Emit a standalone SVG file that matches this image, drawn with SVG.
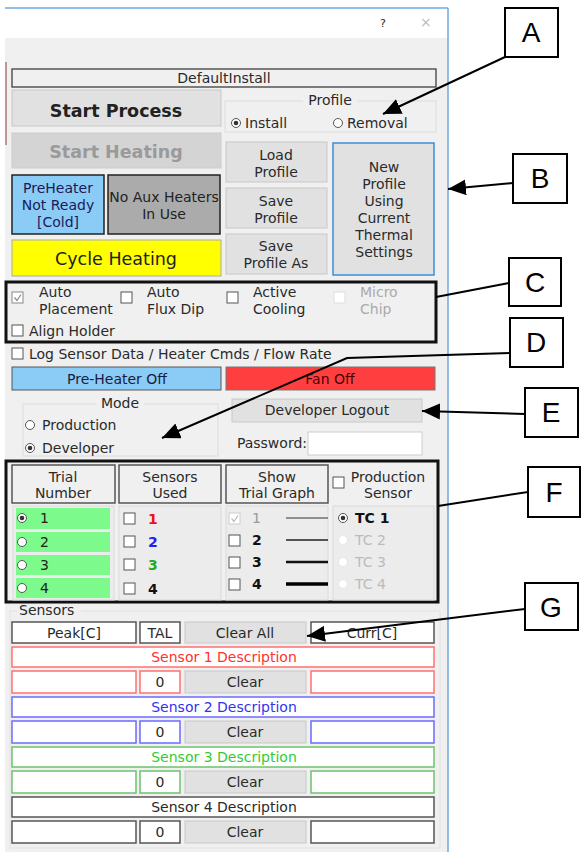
<svg xmlns="http://www.w3.org/2000/svg" width="581" height="852" viewBox="0 0 581 852">
<defs>
<style>
text{font-family:"DejaVu Sans","Noto Sans",sans-serif;font-size:14px;fill:#2a2a2a}
.c{text-anchor:middle}
.btn{fill:#e1e1e1;stroke:#c8c8c8;stroke-width:1}
.inp{fill:#fff;stroke:#555;stroke-width:1.5}
.cb{fill:#fff;stroke:#555;stroke-width:1}
.rd{fill:#fff;stroke:#555;stroke-width:1}
.call rect{fill:#fff;stroke:#000;stroke-width:2}
.call text{font-family:"Liberation Sans",Arial,sans-serif;font-size:28px;fill:#000;text-anchor:middle}
.conn{fill:none;stroke:#000;stroke-width:2}
.hdr{fill:#f0f0f0;stroke:#555;stroke-width:1.5}
.pan{fill:#ececec;stroke:#dadada;stroke-width:1}
.grn{fill:#7cfa8c}
</style>
<marker id="ah" markerUnits="userSpaceOnUse" markerWidth="20" markerHeight="16" refX="18" refY="8" orient="auto">
<path d="M0,0 L18,8 L0,16 Z" fill="#000"/>
</marker>
</defs>
<rect width="581" height="852" fill="#fff"/>
<g id="window">
<rect x="5" y="38" width="443" height="814" fill="#f0f0f0"/>
<line x1="5" y1="8" x2="448" y2="8" stroke="#6ea8e0" stroke-width="1.5"/>
<line x1="448" y1="8" x2="448" y2="852" stroke="#6ea8e0" stroke-width="1.5"/>
<line x1="6" y1="62" x2="6" y2="145" stroke="#8b3a3a" stroke-width="1"/>
<text x="380" y="27" style="font-size:11px" fill="#444">?</text>
<text x="420" y="27" style="font-size:14px;fill:#bbb">×</text>
</g>
<g id="defaultinstall"><rect x="12" y="69" width="424" height="18" fill="#f0f0f0" stroke="#555" stroke-width="1.5"/><text x="224" y="83" class="c">DefaultInstall</text></g>
<g id="start-process"><rect x="12" y="90" width="209" height="36" class="btn"/><text x="116" y="117" class="c" style="font-size:17.5px;font-weight:bold;fill:#222">Start Process</text></g>
<g id="profile-group"><rect x="225" y="101" width="211" height="31" fill="none" stroke="#dcdcdc"/><rect x="303" y="95" width="54" height="10" fill="#f0f0f0"/><text x="330" y="105" class="c">Profile</text>
<circle cx="236" cy="123" r="4.5" class="rd"/><circle cx="236" cy="123" r="2.3" fill="#333"/><text x="245" y="128">Install</text>
<circle cx="338" cy="123" r="4.5" class="rd"/><text x="347" y="128">Removal</text></g>
<g id="start-heating"><rect x="12" y="133" width="209" height="35" fill="#d4d4d4" stroke="#ccc"/><text x="116" y="158" class="c" style="font-size:17.5px;font-weight:bold;fill:#9a9a9a">Start Heating</text></g>
<g id="load-profile"><rect x="226" y="142" width="101" height="40" class="btn"/><text x="276" y="160" class="c">Load</text><text x="276" y="177" class="c">Profile</text></g>
<g id="save-profile"><rect x="226" y="188" width="101" height="40" class="btn"/><text x="276" y="206" class="c">Save</text><text x="276" y="223" class="c">Profile</text></g>
<g id="save-profile-as"><rect x="226" y="234" width="101" height="40" class="btn"/><text x="276" y="251" class="c">Save</text><text x="276" y="268" class="c">Profile As</text></g>
<g id="new-profile"><rect x="333" y="143" width="101" height="132" fill="#e1e1e1" stroke="#3c8ddc" stroke-width="1.5"/><text x="384" y="172" class="c">New</text><text x="384" y="189" class="c">Profile</text><text x="384" y="206" class="c">Using</text><text x="384" y="223" class="c">Current</text><text x="384" y="240" class="c">Thermal</text><text x="384" y="257" class="c">Settings</text></g>
<g id="preheater-status"><rect x="12" y="175" width="92" height="59" fill="#8accf6" stroke="#222" stroke-width="1.5"/><text x="58" y="193" class="c" style="fill:#1a1a5a">PreHeater</text><text x="58" y="210" class="c" style="fill:#1a1a5a">Not Ready</text><text x="58" y="227" class="c" style="fill:#1a1a5a">[Cold]</text></g>
<g id="aux-heaters"><rect x="108" y="175" width="112" height="59" fill="#ababab" stroke="#222" stroke-width="1.5"/><text x="164" y="202" class="c" style="fill:#222">No Aux Heaters</text><text x="164" y="219" class="c" style="fill:#222">In Use</text></g>
<g id="cycle-heating"><rect x="12" y="240" width="209" height="36" fill="#ffff00" stroke="#aaa"/><text x="116" y="265" class="c" style="font-size:17.5px;fill:#222">Cycle Heating</text></g>
<g id="options-box">
<rect x="6" y="282" width="430" height="60" fill="none" stroke="#111" stroke-width="3"/>
<rect x="12" y="292" width="11" height="11" fill="#fff" stroke="#888"/><path d="M14.5,297.5 L17,300.5 L21,294.5" fill="none" stroke="#888" stroke-width="1.2"/>
<text x="39" y="297">Auto</text><text x="39" y="314">Placement</text>
<rect x="121" y="292" width="11" height="11" class="cb"/><text x="147" y="297">Auto</text><text x="147" y="314">Flux Dip</text>
<rect x="227" y="292" width="11" height="11" class="cb"/><text x="253" y="297">Active</text><text x="253" y="314">Cooling</text>
<rect x="334" y="292" width="11" height="11" fill="#fff" stroke="#ddd"/><text x="360" y="297" style="fill:#aaa">Micro</text><text x="360" y="314" style="fill:#aaa">Chip</text>
<rect x="12" y="325" width="11" height="11" class="cb"/><text x="29" y="336">Align Holder</text>
</g>
<g id="log-sensor"><rect x="12" y="348" width="11" height="11" class="cb"/><text x="29" y="359">Log Sensor Data / Heater Cmds / Flow Rate</text></g>
<g id="preheater-off"><rect x="12" y="367" width="209" height="23" fill="#8accf6" stroke="#555"/><text x="117" y="384" class="c" style="fill:#1a1a3a">Pre-Heater Off</text></g>
<g id="fan-off"><rect x="226" y="367" width="209" height="23" fill="#ff3f3f" stroke="#777"/><text x="330" y="384" class="c" style="fill:#4a0000">Fan Off</text></g>
<g id="mode-group"><rect x="23" y="404" width="195" height="52" fill="none" stroke="#dcdcdc"/><rect x="96" y="397" width="48" height="12" fill="#f0f0f0"/><text x="120" y="408" class="c">Mode</text>
<circle cx="30" cy="425" r="4.5" class="rd"/><text x="42" y="430">Production</text>
<circle cx="30" cy="448" r="4.5" class="rd"/><circle cx="30" cy="448" r="2.3" fill="#333"/><text x="42" y="453">Developer</text></g>
<g id="developer-logout"><rect x="232" y="399" width="190" height="23" class="btn"/><text x="327" y="415" class="c">Developer Logout</text></g>
<g id="password"><text x="307" y="448" style="text-anchor:end">Password:</text><rect x="308" y="432" width="114" height="23" fill="#fff" stroke="#ccc"/></g>
<g id="trial-box">
<rect x="6" y="461" width="432" height="141" fill="none" stroke="#111" stroke-width="3"/>
<rect x="12" y="465" width="103" height="38" class="hdr"/><text x="63" y="482" class="c">Trial</text><text x="63" y="498" class="c">Number</text>
<rect x="119" y="465" width="102" height="38" class="hdr"/><text x="170" y="482" class="c">Sensors</text><text x="170" y="498" class="c">Used</text>
<rect x="226" y="465" width="102" height="38" class="hdr"/><text x="277" y="482" class="c">Show</text><text x="277" y="498" class="c">Trial Graph</text>
<rect x="333" y="477" width="11" height="11" class="cb"/><text x="388" y="482" class="c">Production</text><text x="388" y="498" class="c">Sensor</text>
<rect x="13" y="506" width="101" height="94" class="pan"/>
<rect x="16" y="508" width="94" height="21" class="grn"/><rect x="16" y="532" width="94" height="20" class="grn"/><rect x="16" y="555" width="94" height="20" class="grn"/><rect x="16" y="578" width="94" height="20" class="grn"/>
<circle cx="22" cy="518" r="4.5" class="rd"/><circle cx="22" cy="518" r="2.3" fill="#333"/><circle cx="22" cy="542" r="4.5" class="rd"/><circle cx="22" cy="565" r="4.5" class="rd"/><circle cx="22" cy="588" r="4.5" class="rd"/>
<text x="40" y="523" style="fill:#222">1</text><text x="40" y="547" style="fill:#222">2</text><text x="40" y="570" style="fill:#222">3</text><text x="40" y="593" style="fill:#222">4</text>
<rect x="119" y="506" width="102" height="94" class="pan"/>
<rect x="124" y="513" width="11" height="11" class="cb"/><rect x="124" y="536" width="11" height="11" class="cb"/><rect x="124" y="559" width="11" height="11" class="cb"/><rect x="124" y="583" width="11" height="11" class="cb"/>
<text x="148" y="524" style="fill:#ee1111;font-weight:bold">1</text><text x="148" y="547" style="fill:#2222ee;font-weight:bold">2</text><text x="148" y="570" style="fill:#22aa22;font-weight:bold">3</text><text x="148" y="594" style="fill:#111;font-weight:bold">4</text>
<rect x="226" y="506" width="102" height="94" class="pan"/>
<rect x="229" y="513" width="11" height="11" fill="#fff" stroke="#ccc"/><path d="M231.5,518.5 L234,521.5 L238,515.5" fill="none" stroke="#bbb" stroke-width="1.2"/>
<rect x="229" y="535" width="11" height="11" class="cb"/><rect x="229" y="557" width="11" height="11" class="cb"/><rect x="229" y="579" width="11" height="11" class="cb"/>
<text x="252" y="523" style="fill:#999">1</text><text x="252" y="545" style="fill:#111;font-weight:bold">2</text><text x="252" y="567" style="fill:#111;font-weight:bold">3</text><text x="252" y="589" style="fill:#111;font-weight:bold">4</text>
<line x1="286" y1="518" x2="328" y2="518" stroke="#333" stroke-width="1"/><line x1="286" y1="540" x2="328" y2="540" stroke="#222" stroke-width="1.6"/><line x1="286" y1="562" x2="328" y2="562" stroke="#111" stroke-width="2.4"/><line x1="286" y1="584" x2="328" y2="584" stroke="#000" stroke-width="3.4"/>
<rect x="333" y="506" width="101" height="94" class="pan"/>
<circle cx="343" cy="518" r="4.5" class="rd"/><circle cx="343" cy="518" r="2.3" fill="#333"/><text x="355" y="523" style="fill:#111;font-weight:bold">TC 1</text>
<circle cx="343" cy="540" r="4.5" fill="#fff" stroke="#e6e6e6"/><text x="355" y="545" style="fill:#bbb">TC 2</text>
<circle cx="343" cy="562" r="4.5" fill="#fff" stroke="#e6e6e6"/><text x="355" y="567" style="fill:#bbb">TC 3</text>
<circle cx="343" cy="584" r="4.5" fill="#fff" stroke="#e6e6e6"/><text x="355" y="589" style="fill:#bbb">TC 4</text>
</g>
<g id="sensors-group">
<rect x="10" y="611" width="430" height="237" fill="none" stroke="#e2e2e2"/>
<rect x="17" y="604" width="64" height="12" fill="#f0f0f0"/><text x="19" y="615">Sensors</text>
<rect x="12" y="622" width="124" height="21" class="inp" style="stroke:#555"/><text x="74" y="638" class="c">Peak[C]</text>
<rect x="140" y="622" width="40" height="21" class="inp"/><text x="160" y="638" class="c">TAL</text>
<rect x="185" y="622" width="121" height="21" class="btn"/><text x="245" y="638" class="c">Clear All</text>
<rect x="311" y="622" width="123" height="21" class="inp"/><text x="372" y="638" class="c">Curr[C]</text>
</g>
<g id="sensor1">
<rect x="12" y="647" width="422" height="20" fill="#fff" stroke="#ff7070" stroke-width="1.5"/><text x="224" y="662" class="c" style="fill:#ff3030">Sensor 1 Description</text>
<rect x="12" y="671" width="124" height="22" fill="#fff" stroke="#ff7070" stroke-width="1.5"/><rect x="140" y="671" width="40" height="22" fill="#fff" stroke="#ff7070" stroke-width="1.5"/><text x="160" y="687" class="c">0</text>
<rect x="185" y="671" width="121" height="22" class="btn"/><text x="245" y="687" class="c">Clear</text>
<rect x="311" y="671" width="123" height="22" fill="#fff" stroke="#ff7070" stroke-width="1.5"/>
</g>
<g id="sensor2">
<rect x="12" y="697" width="422" height="20" fill="#fff" stroke="#6a6aff" stroke-width="1.5"/><text x="224" y="712" class="c" style="fill:#3333ee">Sensor 2 Description</text>
<rect x="12" y="721" width="124" height="22" fill="#fff" stroke="#6a6aff" stroke-width="1.5"/><rect x="140" y="721" width="40" height="22" fill="#fff" stroke="#6a6aff" stroke-width="1.5"/><text x="160" y="737" class="c">0</text>
<rect x="185" y="721" width="121" height="22" class="btn"/><text x="245" y="737" class="c">Clear</text>
<rect x="311" y="721" width="123" height="22" fill="#fff" stroke="#6a6aff" stroke-width="1.5"/>
</g>
<g id="sensor3">
<rect x="12" y="747" width="422" height="20" fill="#fff" stroke="#6cc26c" stroke-width="1.5"/><text x="224" y="762" class="c" style="fill:#33cc33">Sensor 3 Description</text>
<rect x="12" y="771" width="124" height="22" fill="#fff" stroke="#6cc26c" stroke-width="1.5"/><rect x="140" y="771" width="40" height="22" fill="#fff" stroke="#6cc26c" stroke-width="1.5"/><text x="160" y="787" class="c">0</text>
<rect x="185" y="771" width="121" height="22" class="btn"/><text x="245" y="787" class="c">Clear</text>
<rect x="311" y="771" width="123" height="22" fill="#fff" stroke="#6cc26c" stroke-width="1.5"/>
</g>
<g id="sensor4">
<rect x="12" y="797" width="422" height="20" fill="#fff" stroke="#555" stroke-width="1.5"/><text x="224" y="812" class="c">Sensor 4 Description</text>
<rect x="12" y="821" width="124" height="22" fill="#fff" stroke="#555" stroke-width="1.5"/><rect x="140" y="821" width="40" height="22" fill="#fff" stroke="#555" stroke-width="1.5"/><text x="160" y="837" class="c">0</text>
<rect x="185" y="821" width="121" height="22" class="btn"/><text x="245" y="837" class="c">Clear</text>
<rect x="311" y="821" width="123" height="22" fill="#fff" stroke="#555" stroke-width="1.5"/>
</g>
<g id="connectors">
<line x1="505" y1="57" x2="383" y2="114" class="conn" marker-end="url(#ah)"/>
<line x1="513" y1="183" x2="448" y2="189" class="conn" marker-end="url(#ah)"/>
<line x1="509" y1="283" x2="436" y2="297" class="conn"/>
<polyline points="510,353 347,358 162,438" class="conn" marker-end="url(#ah)"/>
<line x1="525" y1="414" x2="422" y2="411" class="conn" marker-end="url(#ah)"/>
<line x1="528" y1="492" x2="438" y2="506" class="conn"/>
<line x1="525" y1="609" x2="307" y2="636" class="conn" marker-end="url(#ah)"/>
</g>
<g id="label-A" class="call"><rect x="505" y="8" width="53" height="49"/><text x="531" y="42">A</text></g>
<g id="label-B" class="call"><rect x="513" y="154" width="54" height="49"/><text x="540" y="188">B</text></g>
<g id="label-C" class="call"><rect x="509" y="258" width="52" height="48"/><text x="535" y="292">C</text></g>
<g id="label-D" class="call"><rect x="510" y="318" width="53" height="49"/><text x="536" y="352">D</text></g>
<g id="label-E" class="call"><rect x="525" y="388" width="53" height="49"/><text x="551" y="422">E</text></g>
<g id="label-F" class="call"><rect x="528" y="467" width="52" height="50"/><text x="554" y="502">F</text></g>
<g id="label-G" class="call"><rect x="525" y="583" width="53" height="47"/><text x="551" y="617">G</text></g>
</svg>
